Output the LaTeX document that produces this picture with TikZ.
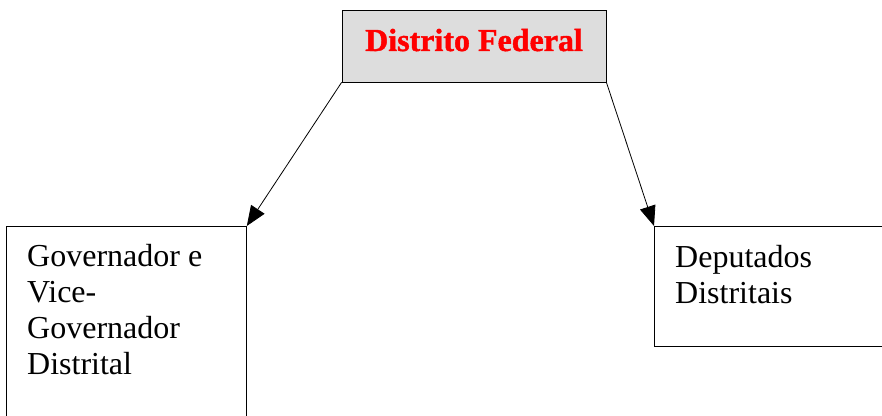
\documentclass[tikz,border=0pt]{standalone}
\usepackage{fontspec}
\setmainfont{Liberation Serif}
\newfontfamily\titlefont{Liberation Serif Bold}[FakeBold=1.3]
\usetikzlibrary{arrows.meta}
\definecolor{boxgray}{RGB}{221,221,221}
\definecolor{titlered}{RGB}{255,0,0}
\begin{document}
\begin{tikzpicture}[x=1pt,y=1pt,
  frame/.style={draw=black,line width=0.8pt,inner sep=0pt,anchor=north west},
  label/.style={inner sep=0pt,anchor=north west,align=left,font=\fontsize{32}{36}\selectfont},
  conn/.style={draw=black,line width=0.8pt,-{Triangle[length=20pt,width=16pt]}}]
\useasboundingbox (0,0) rectangle (882,415);
\clip (0,0) rectangle (882,415);
\node[frame,anchor=center,fill=boxgray,minimum width=264pt,minimum height=72pt,
      text depth=31pt,text height=41pt,text=titlered,
      font=\fontsize{32}{36}\titlefont] (df) at (474,369) {Distrito Federal};
\node[frame,minimum width=240pt,minimum height=250pt] (gov) at (6,189) {};
\node[frame,minimum width=260pt,minimum height=120pt] (dep) at (654,189) {};
\node[label] (govt) at (27,171) {Governador e\\Vice-\\Governador\\Distrital};
\node[label] (dept) at (675,170) {Deputados\\Distritais};
\draw[conn] (df.south west) -- (gov.north east);
\draw[conn] (df.south east) -- (dep.north west);
\end{tikzpicture}
\end{document}
